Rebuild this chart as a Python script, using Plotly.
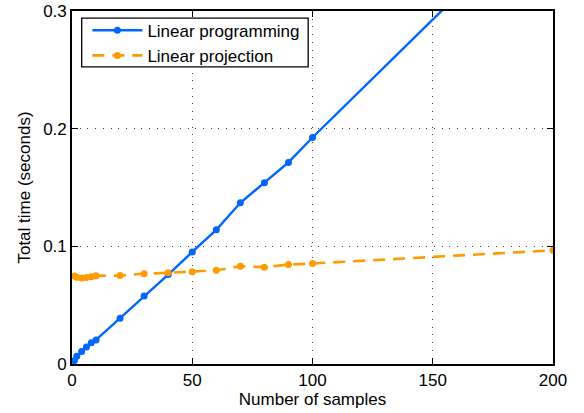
import plotly.graph_objects as go

samples_lp = [1, 2, 4, 6, 8, 10, 20, 30, 40, 50, 60, 70, 80, 90, 100, 200]
time_lp = [0.0028, 0.0065, 0.0107, 0.0144, 0.0180, 0.0205, 0.0389, 0.0577, 0.0760,
           0.0952, 0.1140, 0.1370, 0.1540, 0.1713, 0.1925, 0.393]

samples_proj = [1, 2, 4, 6, 8, 10, 20, 30, 40, 50, 60, 70, 80, 90, 100, 200]
time_proj = [0.0747, 0.0738, 0.0730, 0.0735, 0.0742, 0.0750, 0.0752, 0.0767, 0.0775,
             0.0784, 0.0797, 0.0831, 0.0823, 0.0845, 0.0854, 0.0966]

x_ticks = [0, 50, 100, 150, 200]
y_ticks = [0, 0.1, 0.2, 0.3]
y_tick_labels = ["0", "0.1", "0.2", "0.3"]

blue = "#0066ff"
orange = "#ff9a00"
font = "Liberation Sans, Arial, sans-serif"

fig = go.Figure()
fig.add_trace(go.Scatter(
    x=samples_lp, y=time_lp, mode="lines+markers", name="Linear programming",
    line=dict(color=blue, width=2.4), marker=dict(color=blue, size=7),
))
fig.add_trace(go.Scatter(
    x=samples_proj, y=time_proj, mode="lines+markers", name="Linear projection",
    line=dict(color=orange, width=2.6, dash="12px,8px"), marker=dict(color=orange, size=7),
))

axis_common = dict(
    showline=True, linecolor="black", linewidth=1.6, mirror="ticks",
    ticks="inside", ticklen=6, tickcolor="black", tickwidth=1,
    showgrid=True, gridcolor="#444444", griddash="1px,6.7px", gridwidth=1,
    zeroline=False, automargin=False, ticklabeloverflow="allow",
    tickfont=dict(family=font, size=17, color="black"),
)

# legend frame drawn as a shape so its size matches the reference box
fig.add_shape(type="rect", xref="paper", yref="paper",
              x0=0.0202, x1=0.491, y0=0.8416, y1=0.980,
              fillcolor="white", line=dict(color="black", width=1.3), layer="above")

fig.update_layout(
    width=584, height=413,
    margin=dict(l=72, r=31, t=11, b=49),
    plot_bgcolor="white", paper_bgcolor="white",
    font=dict(family=font, size=17, color="black"),
    xaxis=dict(range=[0, 200], tickvals=x_ticks,
               title=dict(text="Number of samples", font=dict(family=font, size=17), standoff=0),
               **axis_common),
    yaxis=dict(range=[0, 0.30001], tickvals=y_ticks, ticktext=y_tick_labels,
               title=dict(text="Total time (seconds)", font=dict(family=font, size=17), standoff=8),
               **axis_common),
    legend=dict(x=0.032, y=0.995, xanchor="left", yanchor="top",
                bgcolor="rgba(0,0,0,0)", borderwidth=0,
                font=dict(family=font, size=17), tracegroupgap=0,
                itemwidth=50),
    showlegend=True,
)

fig.write_html("out.html", config={"displayModeBar": False},
               post_script="document.body.style.margin='0';")
